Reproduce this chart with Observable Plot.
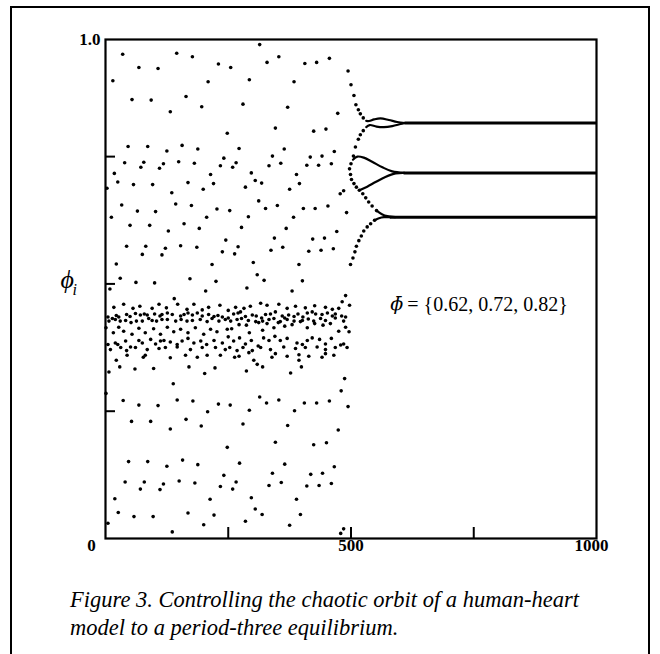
<!DOCTYPE html>
<html><head><meta charset="utf-8">
<script src="https://cdn.jsdelivr.net/npm/d3@7"></script>
<script src="https://cdn.jsdelivr.net/npm/@observablehq/plot@0.6"></script>
<style>
html,body{margin:0;padding:0;background:#fff;}
#box{position:absolute;left:10px;top:6px;width:636px;height:700px;border:2px solid #000;}
#chart svg{display:block;}
#caption{font-family:"Liberation Serif","Times New Roman",serif;font-style:italic;font-size:22.5px;line-height:28px;margin:3px 0 0 58px;color:#000;white-space:nowrap;}
</style></head><body>
<div id="box"><div id="chart"></div><div id="caption">Figure 3. Controlling the chaotic orbit of a human-heart<br>model to a period-three equilibrium.</div></div>
<script>
// ---- data: [iteration i, phi_i] ----
const chaosHigh = [[35,.951],[145,.953],[177,.946],[230,.932],[255,.925],[68,.925],[107,.923],[15,.899],[209,.897],[54,.862],[93,.861],[164,.868],[196,.848],[132,.838],[248,.796],[46,.770],[86,.770],[156,.772],[125,.761],[188,.765],[241,.747],[39,.738],[78,.739],[72,.729],[118,.736],[110,.727],[149,.740],[181,.737],[234,.732],[18,.717],[25,.700],[57,.695],[96,.695],[168,.699],[214,.715],[220,.697],[199,.686],[135,.679],[3,.688],[33,.655],[143,.657],[175,.654],[227,.647],[253,.644],[12,.631],[65,.643],[102,.642],[206,.631],[50,.615],[90,.615],[160,.618],[191,.609],[128,.604],[245,.586],[43,.574],[82,.574],[75,.558],[122,.570],[115,.557],[153,.575],[186,.572],[238,.563],[22,.539],[30,.511],[9,.490],[62,.503],[100,.502],[172,.510],[217,.538],[225,.505],[204,.486],[140,.471],
[314,.970],[329,.935],[353,.946],[406,.933],[430,.935],[456,.943],[293,.901],[384,.897],[280,.853],[371,.847],[473,.835],[346,.806],[424,.800],[449,.804],[272,.766],[364,.765],[340,.751],[266,.738],[259,.729],[333,.732],[357,.737],[417,.749],[441,.751],[466,.760],[410,.733],[434,.733],[460,.736],[297,.718],[305,.703],[318,.698],[285,.690],[389,.715],[395,.697],[375,.686],[312,.663],[350,.654],[453,.653],[485,.683],[478,.677],
[326,.648],[403,.648],[427,.648],[491,.640],[291,.632],[383,.631],[277,.611],[368,.609],[471,.603],[344,.590],[422,.588],[446,.590],[270,.573],[263,.559],[337,.566],[361,.572],[414,.564],[439,.566],[464,.569],[301,.542],[309,.518],[323,.507],[288,.492],[394,.538],[401,.506],[380,.486],[489,.477],[482,.465],[497,.458],[494,.918]];

const chaosBand = [[17,.454],[37,.460],[56,.452],[70,.456],[95,.452],[109,.460],[124,.453],[147,.460],[166,.450],[180,.460],[197,.449],[210,.454],[233,.458],
[5,.435],[14,.432],[22,.438],[27,.435],[43,.440],[50,.436],[61,.442],[71,.439],[79,.441],[85,.439],[100,.441],[111,.437],[115,.440],[126,.443],[136,.440],[153,.437],[160,.440],[168,.443],[177,.439],[187,.443],[197,.437],[210,.440],[221,.436],[229,.438],[238,.435],
[7,.427],[20,.430],[30,.427],[41,.428],[52,.424],[63,.427],[75,.427],[88,.432],[95,.428],[104,.427],[115,.430],[126,.430],[143,.427],[154,.430],[166,.427],[177,.428],[193,.430],[207,.426],[217,.432],[231,.427],[244,.430],
[1,.414],[16,.404],[27,.415],[37,.407],[54,.401],[68,.413],[81,.404],[98,.412],[112,.401],[126,.415],[139,.406],[153,.411],[168,.404],[183,.414],[200,.401],[214,.411],[227,.406],[248,.411],
[5,.381],[20,.384],[25,.381],[41,.388],[51,.376],[68,.389],[75,.384],[92,.391],[102,.382],[112,.388],[119,.389],[132,.386],[146,.381],[156,.388],[168,.393],[180,.384],[194,.388],[206,.381],[221,.389],[238,.384],
[10,.371],[31,.375],[43,.369],[61,.375],[85,.371],[109,.373],[122,.375],[146,.376],[173,.371],[197,.375],[224,.375],[244,.371],
[22,.350],[44,.360],[77,.356],[81,.360],[132,.355],[163,.360],[187,.356],[207,.360],[234,.360],
[250,.448],[265,.454],[282,.452],[295,.456],[316,.462],[329,.458],[353,.460],[370,.452],[387,.456],[407,.453],[426,.457],[448,.454],[462,.450],[475,.452],
[250,.433],[261,.441],[270,.443],[275,.445],[285,.436],[299,.439],[307,.437],[318,.433],[326,.440],[336,.441],[346,.445],[360,.437],[365,.433],[373,.439],[384,.436],[392,.441],[402,.435],[411,.443],[421,.445],[428,.441],[441,.440],[452,.443],[462,.437],[468,.441],[481,.437],[489,.435],
[255,.427],[268,.430],[277,.432],[291,.428],[306,.426],[320,.427],[333,.430],[343,.432],[356,.426],[370,.430],[384,.427],[401,.428],[413,.431],[424,.427],[438,.432],[448,.428],[468,.433],[485,.427],
[257,.412],[272,.420],[287,.419],[293,.404],[312,.424],[320,.409],[329,.422],[343,.414],[352,.424],[365,.417],[380,.420],[397,.426],[411,.414],[426,.422],[443,.419],[458,.422],[475,.407],[496,.406],[489,.415],
[250,.396],[261,.388],[273,.394],[285,.382],[297,.389],[311,.378],[322,.394],[333,.389],[345,.397],[356,.389],[370,.393],[390,.384],[401,.381],[411,.389],[421,.394],[436,.391],[448,.382],[460,.393],[479,.380],[485,.382],
[253,.375],[268,.369],[280,.375],[299,.369],[316,.375],[336,.371],[363,.376],[387,.373],[407,.375],[431,.376],[448,.371],[468,.375],[492,.375],
[263,.356],[272,.358],[292,.365],[339,.356],[346,.363],[370,.358],[394,.361],[414,.358],[441,.356],[448,.363],[465,.360],
[302,.350],[309,.342],[394,.350]];

const chaosLow = [[7,.327],[29,.337],[60,.333],[98,.334],[170,.337],[202,.324],[223,.335],[138,.304],[1,.285],[36,.271],[68,.262],[107,.261],[146,.272],[178,.270],[230,.264],[254,.262],[208,.249],[53,.230],[92,.230],[164,.234],[132,.215],[195,.221],[248,.179],[47,.151],[86,.151],[157,.154],[125,.142],[188,.145],[241,.124],[40,.111],[79,.111],[71,.097],[118,.107],[111,.096],[150,.113],[182,.109],[234,.102],[19,.078],[26,.051],[58,.043],[97,.043],[168,.050],[213,.077],[221,.046],[200,.027],[5,.030],[136,.013],
[287,.329],[320,.337],[377,.325],[399,.337],[487,.314],[480,.290],[494,.259],[314,.278],[328,.266],[353,.272],[405,.266],[430,.266],[456,.270],[293,.252],[385,.251],[280,.225],[371,.222],[474,.213],[346,.189],[424,.184],[450,.188],[273,.148],[365,.146],[340,.128],[266,.111],[259,.097],[333,.104],[358,.110],[418,.126],[442,.128],[466,.141],[410,.103],[435,.104],[460,.108],[297,.080],[305,.058],[319,.047],[285,.034],[389,.077],[397,.047],[375,.026],[485,.019],[479,.010]];

// control switched on at i = 500: transient dots
const controlDots = [[500,.891],[506,.870],[510,.852],[515,.842],[519,.834],[525,.826],
[497,.726],[500,.736],[505,.751],[509,.769],[515,.784],[519,.793],[525,.801],
[499,.715],[501,.705],[506,.697],[511,.690],[517,.684],[524,.677],[530,.669],[536,.661],[543,.653],[552,.644],
[499,.538],[504,.551],[508,.563],[511,.574],[516,.585],[521,.594],[526,.604],[533,.612],[540,.618],[548,.625]];

// dense parts of the three branches (dots merge into curves)
const topArcUpper = [[531,.820],[537,.820],[547,.823],[560,.825],[577,.822],[594,.818],[610,.816]];
const topArcLower = [[531,.808],[538,.812],[552,.809],[567,.808],[584,.810],[601,.814],[610,.816]];
const midArcUpper = [[504,.744],[513,.750],[526,.748],[543,.740],[564,.729],[584,.721],[608,.718]];
const midArcLower = [[517,.684],[533,.691],[550,.700],[570,.710],[591,.717],[608,.718]];
const lowArcAbove = [[552,.644],[563,.637],[574,.633],[590,.631]];
const lowArcBelow = [[548,.625],[557,.629],[567,.631],[580,.631]];

// settled period-three orbit
const fixedPhi = [0.816, 0.718, 0.631];
const settleFrom = [610, 608, 580];
const lastIter = 1000;

// axes
const xInnerTicks = [250, 500, 750];
const yInnerTicks = [0.25, 0.5, 0.75];
const xLabelValues = [0, 500, 1000];
const yLabelValues = [0.98];
const annotation = {x: 580, y: 0.46, symbol: "\u03D5\u0304", text: "= {0.62, 0.72, 0.82}"};

// ---- build ----
const dots = [...chaosHigh, ...chaosBand, ...chaosLow, ...controlDots];
const arcs = [["tu", topArcUpper], ["tl", topArcLower], ["mu", midArcUpper], ["ml", midArcLower], ["la", lowArcAbove], ["lb", lowArcBelow]]
  .flatMap(([s, arr]) => arr.map(([i, p]) => ({s, i, p})));
const settled = fixedPhi.map((p, k) => ({p, from: settleFrom[k], to: lastIter}));
const serif = "Liberation Serif, Times New Roman, serif";
const lab = {frameAnchor: "bottom", dy: 12, fontFamily: serif, fontWeight: "bold", fontSize: 17, text: d => String(d), x: d => d};

const plot = Plot.plot({
  width: 636, height: 575,
  marginLeft: 93, marginRight: 52, marginTop: 31, marginBottom: 45,
  x: {domain: [0, 1000], axis: null},
  y: {domain: [0, 0.98], axis: null},
  style: {background: "transparent", color: "#000"},
  marks: [
    Plot.frame({stroke: "#000", strokeWidth: 2.2}),
    Plot.axisX({ticks: xInnerTicks, anchor: "bottom", tickSize: -11, strokeWidth: 2, tickFormat: () => "", label: null}),
    Plot.axisY({ticks: yInnerTicks, anchor: "left", tickSize: -10, strokeWidth: 2, tickFormat: () => "", label: null}),
    Plot.dot(dots, {x: d => d[0], y: d => d[1], r: 1.8, fill: "#000", stroke: "none"}),
    Plot.line(arcs, {x: "i", y: "p", z: "s", stroke: "#000", strokeWidth: 2.2, curve: "catmull-rom"}),
    Plot.ruleY(settled, {y: "p", x1: "from", x2: "to", stroke: "#000", strokeWidth: 3}),
    Plot.text(xLabelValues.filter(v => v === 0), {...lab, dx: -14}),
    Plot.text(xLabelValues.filter(v => v === 500), {...lab}),
    Plot.text(xLabelValues.filter(v => v === 1000), {...lab, dx: -5}),
    Plot.text(yLabelValues, {y: d => d, text: d => d3.format(".1f")(d), frameAnchor: "left", textAnchor: "end", dx: -5, fontFamily: serif, fontWeight: "bold", fontSize: 17}),
    Plot.text([{t: "\u03D5", v: 0.5}], {y: "v", text: "t", frameAnchor: "left", dx: -45, dy: -4, fontFamily: serif, fontStyle: "italic", fontSize: 26}),
    Plot.text([{t: "i", v: 0.5}], {y: "v", text: "t", frameAnchor: "left", dx: -33, dy: 6, fontFamily: serif, fontStyle: "italic", fontSize: 16}),
    Plot.text([annotation], {x: "x", y: "y", text: "symbol", textAnchor: "start", fontFamily: "DejaVu Serif", fontStyle: "italic", fontSize: 19}),
    Plot.text([annotation], {x: "x", y: "y", text: "text", textAnchor: "start", dx: 17, fontFamily: serif, fontSize: 20})
  ]
});
document.getElementById("chart").append(plot);
</script>
</body></html>
